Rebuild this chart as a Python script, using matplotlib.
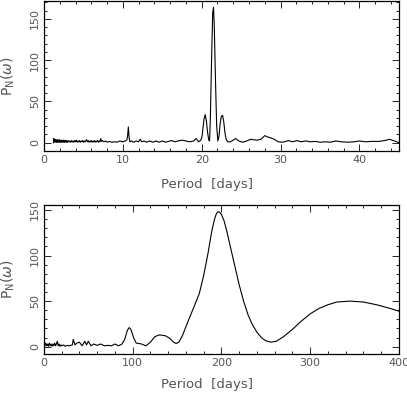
import matplotlib
matplotlib.use('Agg')
import matplotlib.pyplot as plt
from matplotlib.ticker import MultipleLocator

# top panel: short-period periodogram, (period in days, normalised power)
TOP_POINTS = [
    (1.2, 0.0), (1.25, 5.0), (1.3, 1.0), (1.35, 4.0), (1.4, 0.5), (1.45, 3.5),
    (1.5, 1.0), (1.55, 3.0), (1.6, 0.5), (1.65, 3.5), (1.7, 0.8), (1.75, 3.0),
    (1.8, 0.5), (1.85, 3.0), (1.9, 1.0), (1.95, 3.5), (2.0, 0.5), (2.05, 3.0),
    (2.1, 0.8), (2.15, 2.5), (2.2, 0.5), (2.25, 3.0), (2.3, 1.0), (2.35, 2.5),
    (2.4, 0.5), (2.45, 3.0), (2.5, 0.8), (2.55, 2.5), (2.6, 0.5), (2.65, 2.5),
    (2.7, 1.0), (2.75, 3.0), (2.8, 0.5), (2.85, 2.5), (2.9, 0.8), (2.95, 2.0),
    (3.0, 0.5), (3.1, 2.5), (3.2, 0.8), (3.3, 2.0), (3.4, 0.5), (3.5, 2.5),
    (3.6, 0.8), (3.7, 2.0), (3.8, 0.5), (3.9, 2.5), (4.0, 1.0), (4.1, 3.0),
    (4.2, 0.5), (4.3, 2.0), (4.4, 0.8), (4.5, 2.5), (4.6, 0.5), (4.7, 2.0),
    (4.8, 1.0), (4.9, 2.5), (5.0, 0.5), (5.1, 2.0), (5.2, 0.8), (5.3, 2.5),
    (5.4, 3.5), (5.5, 1.0), (5.6, 2.5), (5.7, 0.5), (5.8, 2.0), (5.9, 1.0),
    (6.0, 2.5), (6.1, 0.5), (6.2, 2.0), (6.3, 0.8), (6.4, 2.5), (6.5, 0.5),
    (6.6, 2.0), (6.7, 1.0), (6.8, 2.5), (6.9, 0.5), (7.0, 2.0), (7.1, 1.0),
    (7.2, 5.0), (7.3, 1.5), (7.4, 2.5), (7.6, 1.0), (7.8, 2.0), (8.0, 0.5),
    (8.3, 1.5), (8.6, 0.5), (9.0, 1.0), (9.3, 0.5), (9.6, 2.0), (10.0, 1.0),
    (10.3, 2.0), (10.5, 3.0), (10.6, 8.0), (10.7, 19.0), (10.8, 6.0), (10.9, 1.0),
    (11.1, 2.0), (11.4, 0.5), (11.7, 2.0), (12.0, 1.0), (12.2, 4.0), (12.4, 1.0),
    (12.7, 2.0), (13.0, 0.5), (13.4, 2.0), (13.8, 0.5), (14.2, 2.0), (14.6, 0.5),
    (15.0, 2.0), (15.4, 0.5), (15.8, 1.5), (16.2, 2.5), (16.6, 1.0), (17.0, 2.0),
    (17.5, 3.0), (18.0, 2.0), (18.5, 1.0), (19.0, 2.0), (19.3, 5.0), (19.6, 1.0),
    (19.9, 3.0), (20.05, 8.0), (20.2, 20.0), (20.3, 29.0), (20.45, 34.0),
    (20.6, 26.0), (20.75, 12.0), (20.9, 3.0), (21.0, 2.0), (21.1, 30.0),
    (21.25, 100.0), (21.4, 158.0), (21.5, 164.0), (21.6, 140.0), (21.75, 75.0),
    (21.9, 20.0), (22.05, 2.0), (22.2, 8.0), (22.35, 24.0), (22.5, 32.0),
    (22.65, 33.0), (22.8, 25.0), (22.95, 12.0), (23.1, 4.0), (23.3, 1.0),
    (23.6, 1.0), (24.0, 3.0), (24.3, 5.0), (24.7, 2.0), (25.2, 0.5), (25.7, 2.0),
    (26.2, 4.0), (26.6, 3.5), (27.0, 3.0), (27.5, 4.0), (28.0, 8.5), (28.3, 7.0),
    (28.7, 6.0), (29.2, 4.0), (29.7, 1.0), (30.3, 0.5), (31.0, 2.5), (31.5, 1.0),
    (32.1, 2.5), (32.6, 1.0), (33.2, 2.0), (33.8, 1.0), (34.4, 1.5), (35.0, 0.5),
    (35.7, 1.0), (36.3, 0.5), (37.0, 2.0), (37.7, 1.0), (38.5, 0.5), (39.3, 1.0),
    (40.0, 2.0), (40.8, 1.0), (41.5, 1.5), (42.5, 1.5), (43.2, 2.5), (43.8, 4.0),
    (44.3, 2.5), (45.0, 0.0),
]

# bottom panel: long-period periodogram
BOT_POINTS = [
    (1, 1), (2, 4), (3, 1), (4, 3), (5, 0.5), (6, 4), (7, 1), (8, 3), (9, 0.5),
    (10, 3), (11, 1), (12, 4), (13, 1), (14, 3), (15, 6), (16, 1), (17, 3),
    (18, 0.5), (19, 2), (20, 1), (22, 2), (24, 0.5), (26, 1.5), (28, 1), (30, 1.5),
    (32, 2), (33, 8), (35, 2), (37, 4), (40, 5), (43, 1), (46, 6), (48, 2),
    (50, 6), (53, 1), (56, 3), (60, 1.5), (64, 3), (68, 1), (72, 1.5), (76, 1),
    (80, 3), (84, 1), (88, 3), (91, 8), (94, 18), (96, 21), (98, 19), (101, 10),
    (104, 4), (110, 3), (115, 1), (120, 5), (125, 11), (130, 13), (137, 12),
    (142, 9), (146, 5), (149, 3.5), (152, 5), (156, 12), (160, 22), (165, 34),
    (170, 46), (175, 58), (180, 78), (185, 103), (189, 126), (192, 139),
    (194, 145), (196, 148), (198, 147.5), (200, 145), (203, 138), (206, 127),
    (210, 110), (215, 89), (220, 68), (225, 50), (230, 35), (235, 24), (240, 16),
    (245, 10), (250, 6.5), (256, 5), (262, 6), (270, 11), (280, 19), (290, 28),
    (300, 36), (310, 42), (320, 46), (330, 49), (345, 50), (360, 49), (375, 46),
    (390, 42), (400, 39),
]

INK = '#555555'


def style_axes(ax, xmajor, xminor, label_y):
    ax.xaxis.set_major_locator(MultipleLocator(xmajor))
    ax.xaxis.set_minor_locator(MultipleLocator(xminor))
    ax.yaxis.set_major_locator(MultipleLocator(50))
    ax.yaxis.set_minor_locator(MultipleLocator(10))
    ax.tick_params(which='both', direction='in', top=True, right=True,
                   width=0.6, colors='black', labelcolor=INK, labelsize=8, pad=3)
    ax.tick_params(which='major', length=5)
    ax.tick_params(which='minor', length=2.5)
    for lab in ax.get_yticklabels():
        lab.set_rotation(90)
        lab.set_va('center')
    for sp in ax.spines.values():
        sp.set_linewidth(0.9)
    ax.set_xlabel('Period  [days]', color=INK, fontsize=9.5)
    ax.xaxis.set_label_coords(0.46, label_y)
    ax.set_ylabel(r'P$_{\rm N}$($\omega$)', color=INK, fontsize=10, labelpad=9)


fig = plt.figure(figsize=(4.07, 3.96), dpi=100)

ax1 = fig.add_axes([0.108, 0.619, 0.872, 0.379])
ax1.plot([p for p, _ in TOP_POINTS], [v for _, v in TOP_POINTS], color='black', lw=0.8)
ax1.set_xlim(0, 45)
ax1.set_ylim(-10, 172)
style_axes(ax1, 10, 2, -0.18)

ax2 = fig.add_axes([0.108, 0.106, 0.872, 0.3755])
ax2.plot([p for p, _ in BOT_POINTS], [v for _, v in BOT_POINTS], color='black', lw=0.8)
ax2.set_xlim(0, 400)
ax2.set_ylim(-8, 155)
style_axes(ax2, 100, 20, -0.16)

fig.savefig('out.png', dpi=100)
